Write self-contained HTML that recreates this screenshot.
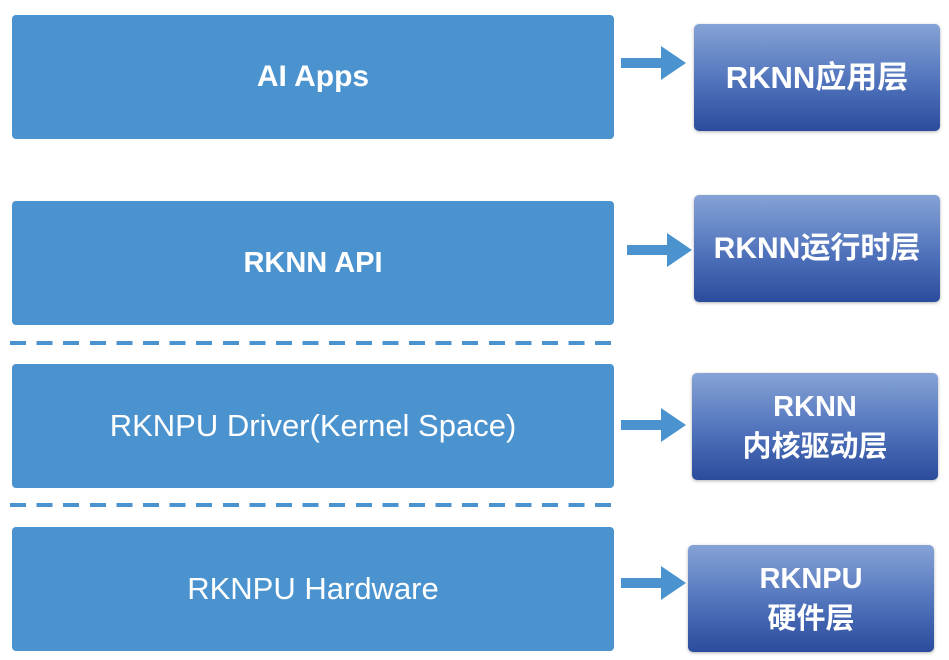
<!DOCTYPE html>
<html><head><meta charset="utf-8"><style>
body{margin:0;width:949px;height:660px;background:#fff;position:relative;overflow:hidden;font-family:"Liberation Sans","Noto Sans CJK SC",sans-serif;}
.l{position:absolute;left:12px;width:602px;height:124px;background:#4b93cf;border-radius:4px;color:#fff;font-size:31px;display:flex;align-items:center;justify-content:center;}
.r{position:absolute;width:246px;height:107px;border-radius:5px;background:linear-gradient(#86a3d6,#4f72bb 55%,#2b4c9c);color:#fff;font-size:29px;font-weight:bold;display:flex;align-items:center;justify-content:center;text-align:center;line-height:40px;box-shadow:0 1px 3px rgba(0,0,0,.3);}
.d{position:absolute;left:10px;width:608px;height:4px;background:repeating-linear-gradient(90deg,#4b93cf 0 16px,transparent 16px 26.6px);}
svg{position:absolute;}
</style></head><body>
<div class="l" style="top:15px;font-weight:bold;font-size:30px">AI Apps</div>
<div class="l" style="top:201px;font-weight:bold;font-size:29px">RKNN API</div>
<div class="l" style="top:364px">RKNPU Driver(Kernel Space)</div>
<div class="l" style="top:527px">RKNPU Hardware</div>
<div class="d" style="top:341px"></div>
<div class="d" style="top:503px"></div>
<div class="r" style="left:694px;top:24px;font-size:31px">RKNN应用层</div>
<div class="r" style="left:694px;top:195px;font-size:30px">RKNN运行时层</div>
<div class="r" style="left:692px;top:373px">RKNN<br>内核驱动层</div>
<div class="r" style="left:688px;top:545px">RKNPU<br>硬件层</div>
<svg width="949" height="660" style="left:0;top:0">
<g fill="#4b93cf">
<polygon points="621,58 661,58 661,46 686,63 661,80 661,68 621,68"/>
<polygon points="627,245 667,245 667,233 692,250 667,267 667,255 627,255"/>
<polygon points="621,420 661,420 661,408 686,425 661,442 661,430 621,430"/>
<polygon points="621,578 661,578 661,566 686,583 661,600 661,588 621,588"/>
</g></svg>
</body></html>
